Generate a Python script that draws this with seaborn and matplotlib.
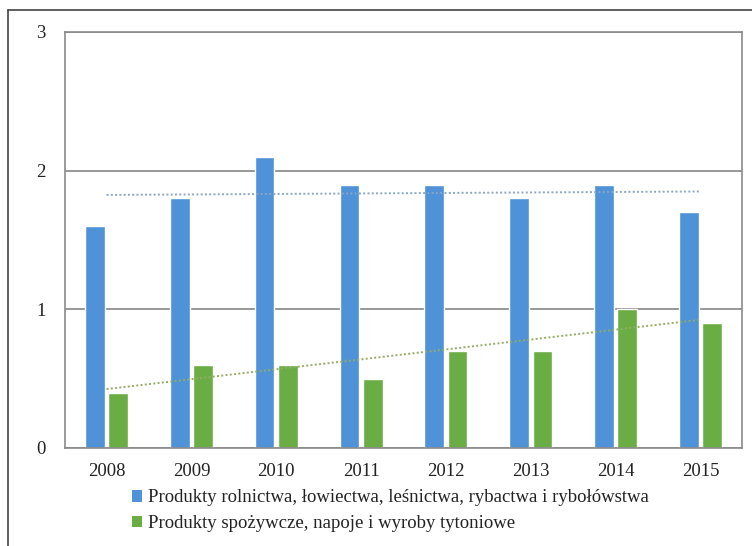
import numpy as np
import pandas as pd
import matplotlib
matplotlib.use("Agg")
import matplotlib.pyplot as plt
import seaborn as sns
from matplotlib.lines import Line2D
from matplotlib.patches import Patch

years = ["2008", "2009", "2010", "2011", "2012", "2013", "2014", "2015"]
series_a = "Produkty rolnictwa, łowiectwa, leśnictwa, rybactwa i rybołówstwa"
series_b = "Produkty spożywcze, napoje i wyroby tytoniowe"
values_a = [1.6, 1.8, 2.1, 1.9, 1.9, 1.8, 1.9, 1.7]
values_b = [0.4, 0.6, 0.6, 0.5, 0.7, 0.7, 1.0, 0.9]
y_ticks = [0, 1, 2, 3]

color_a = "#4F92D8"
color_b = "#6BAD45"

sns.set_theme(style="white")
plt.rcParams['font.family'] = ['Liberation Serif', 'DejaVu Serif']

df = pd.DataFrame({
    "year": years * 2,
    "value": values_a + values_b,
    "series": [series_a] * len(years) + [series_b] * len(years),
})

fig = plt.figure(figsize=(7.52, 5.46), dpi=100)
ax = fig.add_axes([65 / 752, 1 - 448 / 546, (742 - 65) / 752, (448 - 32) / 546])

sns.barplot(data=df, x="year", y="value", hue="series", order=years,
            hue_order=[series_a, series_b], palette=[color_a, color_b],
            width=0.55, gap=0.15, saturation=1, ax=ax, legend=False,
            errorbar=None)

# linear trend lines
xs = np.arange(len(years))
for vals, col in [(values_a, "#8AA6C4"), (values_b, "#93AD62")]:
    k, b = np.polyfit(xs, vals, 1)
    ax.plot(xs, k * xs + b, linestyle=(0, (1.0, 1.2)), color=col, lw=1.4, zorder=3)

ax.set_xlim(-0.49, len(years) - 0.51)
ax.set_ylim(0, 3)
ax.set_yticks(y_ticks)
ax.set_yticklabels([str(t) for t in y_ticks])
ax.set_xlabel("")
ax.set_ylabel("")
ax.yaxis.grid(True, color="#858585", lw=1.2)
ax.set_axisbelow(True)
for s in ax.spines.values():
    s.set_visible(True)
    s.set_color("#8A8A8A")
    s.set_linewidth(1.2)
ax.tick_params(axis="both", length=0, labelsize=13.5, colors="#222222")
ax.tick_params(axis="y", pad=14)
ax.tick_params(axis="x", pad=11)

handles = [Patch(facecolor=color_a, edgecolor="none"), Patch(facecolor=color_b, edgecolor="none")]
fig.legend(handles, [series_a, series_b], loc="upper left",
           bbox_to_anchor=(124 / 752, 1 - 482 / 546), ncol=1, frameon=False,
           fontsize=13.5, handlelength=0.55, handleheight=0.55, handletextpad=0.35,
           labelspacing=0.45, borderaxespad=0, labelcolor="#222222")

# outer frame (top and left edges)
fig.add_artist(Line2D([8 / 752, 1], [1 - 10 / 546, 1 - 10 / 546], color="#444444", lw=1.2))
fig.add_artist(Line2D([8 / 752, 8 / 752], [0, 1 - 10 / 546], color="#444444", lw=1.2))

fig.savefig("out.png", dpi=100, facecolor="white")
